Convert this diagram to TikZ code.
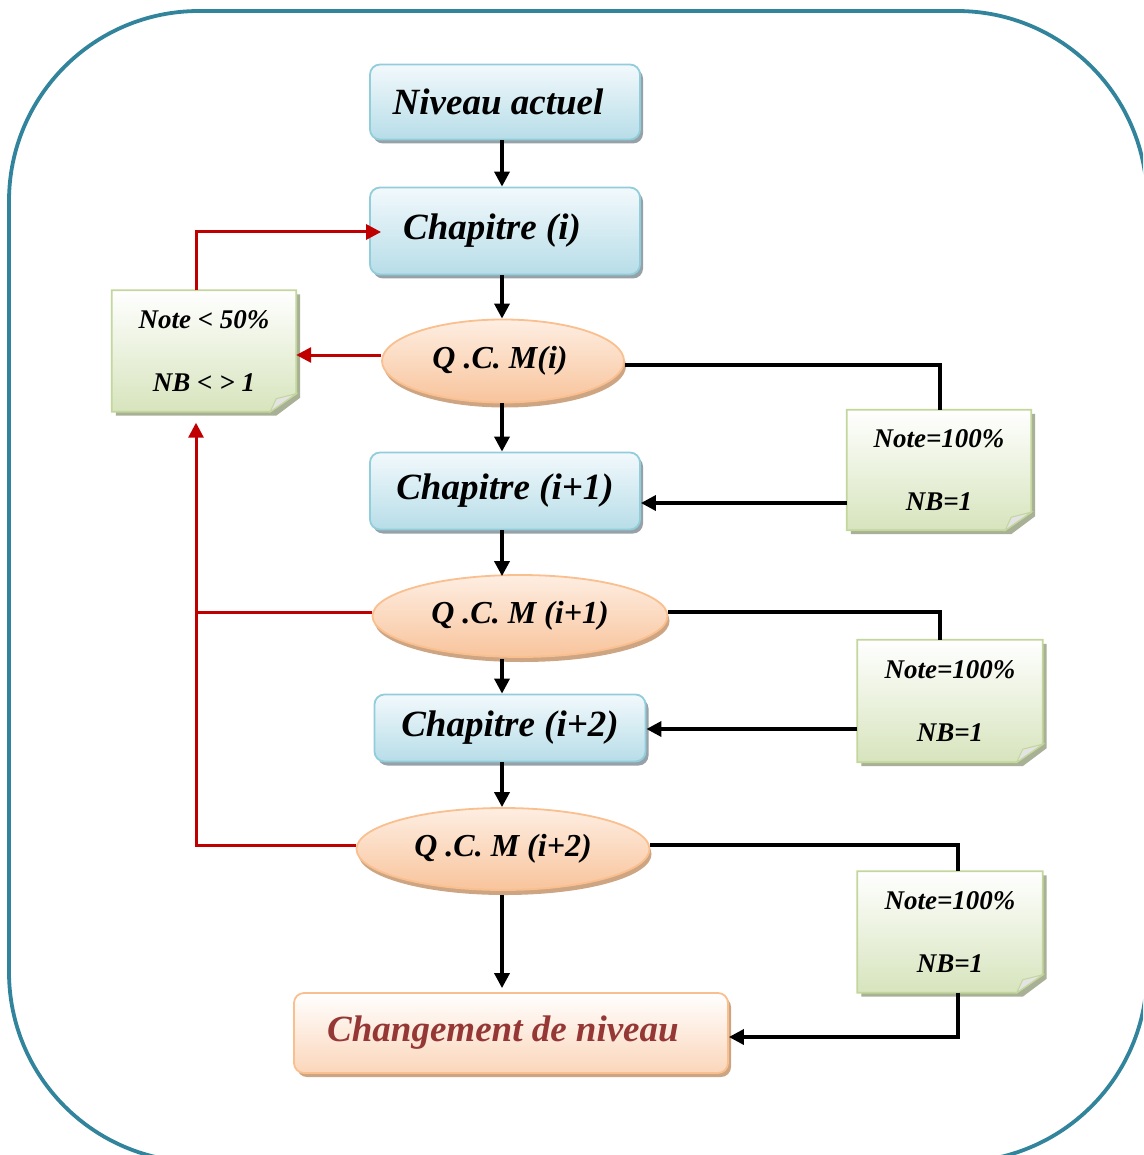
\documentclass[tikz,border=0pt]{standalone}
\usepackage{fontspec}
\setmainfont{Liberation Serif}
\usetikzlibrary{arrows.meta,shapes.geometric,shadows,backgrounds,calc}

\definecolor{frameC}{RGB}{49,132,155}
\definecolor{blueTop}{RGB}{242,249,252}
\definecolor{blueBot}{RGB}{183,221,232}
\definecolor{blueEdge}{RGB}{146,205,220}
\definecolor{peachTop}{RGB}{254,238,226}
\definecolor{peachBot}{RGB}{248,196,156}
\definecolor{peachEdge}{RGB}{250,191,143}
\definecolor{chgBot}{RGB}{251,214,186}
\definecolor{noteBot}{RGB}{215,228,189}
\definecolor{noteEdge}{RGB}{195,214,155}
\definecolor{noteShade}{RGB}{168,176,150}
\definecolor{boxShade}{RGB}{150,162,168}
\definecolor{ovalShade}{RGB}{205,165,130}
\definecolor{darkRed}{RGB}{149,55,53}
\definecolor{linkRed}{RGB}{192,0,0}

\tikzset{
  x=1pt, y=-1pt,
  chapbox/.style={rectangle, rounded corners=10pt, draw=blueEdge, line width=1.8pt,
    top color=blueTop, bottom color=blueBot,
    drop shadow={shadow xshift=3pt, shadow yshift=-4pt, fill=boxShade, opacity=1},
    font=\fontsize{37}{40}\selectfont\bfseries\itshape, inner sep=0pt},
  qcm/.style={ellipse, draw=peachEdge, line width=1.8pt,
    top color=peachTop, bottom color=peachBot,
    drop shadow={shadow xshift=2pt, shadow yshift=-5pt, fill=ovalShade, opacity=1},
    font=\fontsize{32}{36}\selectfont\bfseries\itshape, inner sep=0pt},
  endbox/.style={rectangle, rounded corners=10pt, draw=peachEdge, line width=1.8pt,
    top color=white, bottom color=chgBot,
    drop shadow={shadow xshift=3pt, shadow yshift=-4pt, fill=ovalShade, opacity=1},
    font=\fontsize{37}{40}\selectfont\bfseries\itshape, text=darkRed, inner sep=0pt},
  notetext/.style={rectangle, align=center, inner sep=0pt,
    font=\fontsize{27}{63}\selectfont\bfseries\itshape},
  blk/.style={draw=black, line width=3.4pt},
  rlink/.style={draw=linkRed, line width=3pt},
  tip/.style={-{Triangle[length=15pt,width=15pt]}},
}

% folded sheet drawn behind a note node
\newcommand\notepaper[1]{%
  \begin{pgfonlayer}{background}
    \fill[noteShade] ([xshift=4,yshift=-4]#1.north west) -- ([xshift=4,yshift=-4]#1.north east)
      -- ([xshift=4,yshift=14]#1.south east) -- ([xshift=-20,yshift=-4]#1.south east)
      -- ([xshift=4,yshift=-4]#1.south west) -- cycle;
    \shade[top color=white, bottom color=noteBot, draw=noteEdge, line width=1.8pt]
      (#1.north west) -- (#1.north east) -- ([yshift=18]#1.south east)
      -- ([xshift=-26]#1.south east) -- (#1.south west) -- cycle;
    \filldraw[fill=gray!22, draw=noteEdge, line width=1pt]
      ([yshift=18]#1.south east) -- ([xshift=-26]#1.south east)
      -- ([xshift=-20,yshift=13]#1.south east) -- cycle;
  \end{pgfonlayer}}

\begin{document}
\begin{tikzpicture}
\useasboundingbox (0,0) rectangle (1143,1155);

% outer frame
\begin{scope}
  \clip (0,0) rectangle (1143,1155);
  \draw[frameC, line width=3.8pt, rounded corners=190pt] (9,11) rectangle (1147,1162);
\end{scope}

% main column
\node[chapbox, minimum width=270pt, minimum height=75pt] (niv) at (505,102) {\hspace*{-14pt}Niveau actuel};
\node[chapbox, minimum width=270pt, minimum height=87pt] (ch1) at (505,231) {\hspace*{-26pt}\raisebox{2pt}{Chapitre (i)}};
\node[qcm, minimum width=242pt, minimum height=83pt] (q1) at (503,361) {\hspace*{-6pt}Q .C. M(i)};
\node[chapbox, minimum width=270pt, minimum height=77pt] (ch2) at (505,491) {\raisebox{-2pt}{Chapitre (i+1)}};
\node[qcm, minimum width=295pt, minimum height=82pt] (q2) at (520,616) {Q .C. M (i+1)};
\node[chapbox, minimum width=271pt, minimum height=67pt] (ch3) at (510,728) {\raisebox{-6pt}{Chapitre (i+2)}};
\node[qcm, minimum width=293pt, minimum height=82pt] (q3) at (503,849) {Q .C. M (i+2)};
\node[endbox, minimum width=434pt, minimum height=80pt] (chg) at (511,1033) {\hspace*{-16pt}Changement de niveau};

% condition notes
\node[notetext, minimum width=184pt, minimum height=121pt] (nL) at (204,351) {Note < 50\%\\NB < > 1};
\node[notetext, minimum width=184pt, minimum height=120pt] (nR1) at (939,470) {Note=100\%\\NB=1};
\node[notetext, minimum width=185pt, minimum height=122pt] (nR2) at (950,701) {Note=100\%\\NB=1};
\node[notetext, minimum width=185pt, minimum height=121pt] (nR3) at (950,932) {Note=100\%\\NB=1};
\notepaper{nL}
\notepaper{nR1}
\notepaper{nR2}
\notepaper{nR3}

% vertical flow along x = 502
\coordinate (axis) at (502,0);
\draw[blk,tip] (niv.south -| axis) -- (ch1.north -| axis);
\draw[blk,tip] (ch1.south -| axis) -- (q1.north -| axis);
\draw[blk,tip] (q1.south -| axis) -- (ch2.north -| axis);
\draw[blk,tip] (ch2.south -| axis) -- ([yshift=-2]q2.north -| axis);
\draw[blk,tip] ([yshift=-1]q2.south -| axis) -- (ch3.north -| axis);
\draw[blk,tip] (ch3.south -| axis) -- (q3.north -| axis);
\draw[blk,tip] ([yshift=-4]q3.south -| axis) -- ([yshift=4]chg.north -| axis);

% success branches
\draw[blk] ([yshift=-4]q1.east) -| (nR1.north -| 940,0);
\draw[blk,tip] ([yshift=-33]nR1.west) -- ([yshift=-33]nR1.west -| ch2.east);
\draw[blk] ([yshift=4]q2.east) -| ([xshift=-10]nR2.north);
\draw[blk,tip] ([yshift=-28]nR2.west) -- ([yshift=-28]nR2.west -| ch3.east);
\draw[blk] ([yshift=4]q3.east) -| ([xshift=8]nR3.north);
\draw[blk,tip] ([xshift=8]nR3.south) |- ([yshift=-4]chg.east);

% failure branches
\coordinate (bus) at (196,0);
\draw[rlink,tip] ([yshift=6]q1.west) -- ([yshift=6]q1.west -| nL.east);
\draw[rlink,tip] (nL.north -| bus) |- ([xshift=12,yshift=-1]ch1.west);
\draw[rlink] ([yshift=4]q2.west) -- ([yshift=4]q2.west -| bus);
\draw[rlink,tip] ([yshift=4]q3.west) -| ([yshift=-11]nL.south -| bus);
\end{tikzpicture}
\end{document}
